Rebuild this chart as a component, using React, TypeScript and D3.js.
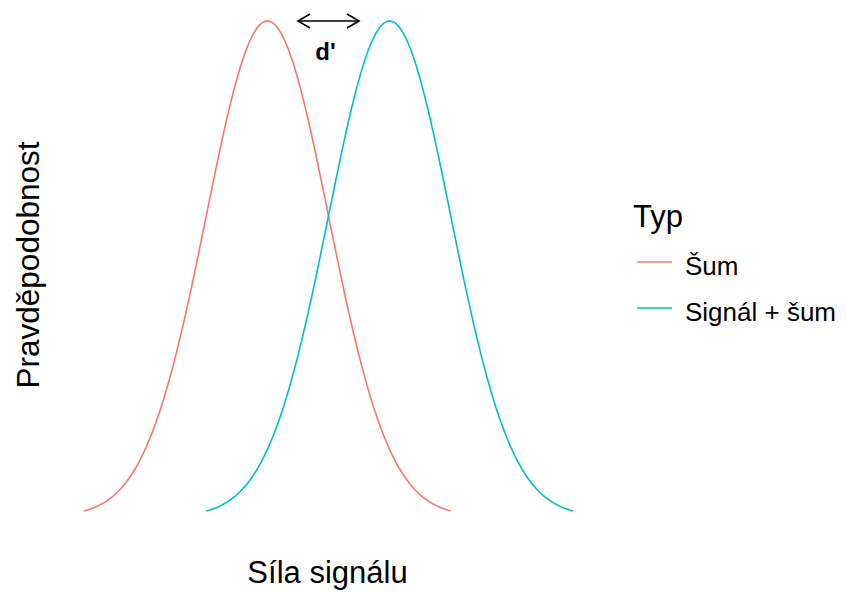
import React from "react";
import * as d3 from "d3";

// Distribution parameters (signal strength units)
const groups = ["Šum", "Signál + šum"];
const means = [0, 2];
const sds = [1, 1];
const colors = ["#F8766D", "#00BFC4"];
const spanSd = 3;

// Annotation of the separation between the two means
const arrowFrom = 0.5;
const arrowTo = 1.5;
const dPrimeLabel = "d'";

const xTitle = "Síla signálu";
const yTitle = "Pravděpodobnost";
const legendTitle = "Typ";

const W = 846;
const H = 592;
const FONT = "'Liberation Sans', Arial, sans-serif";

function normalDensity(x: number, mu: number, sd: number) {
  const z = (x - mu) / sd;
  return Math.exp(-0.5 * z * z) / (sd * Math.sqrt(2 * Math.PI));
}

export default function App() {
  const xMin = d3.min(means.map((m, i) => m - spanSd * sds[i])) as number;
  const xMax = d3.max(means.map((m, i) => m + spanSd * sds[i])) as number;
  const peak = normalDensity(0, 0, 1);

  const x = d3.scaleLinear().domain([xMin, xMax]).range([84, 573]);
  const y = d3.scaleLinear().domain([0, peak]).range([516.5, 21]);

  const line = d3
    .line<[number, number]>()
    .x((d) => x(d[0]))
    .y((d) => y(d[1]))
    .curve(d3.curveLinear);

  const curves = means.map((mu, i) => {
    const sd = sds[i];
    const n = 301;
    const pts: [number, number][] = d3
      .range(n)
      .map((k) => mu - spanSd * sd + (2 * spanSd * sd * k) / (n - 1))
      .map((v) => [v, normalDensity(v, mu, sd)]);
    return line(pts) as string;
  });

  // double-headed open arrow
  const ax1 = x(arrowFrom);
  const ax2 = x(arrowTo);
  const ay = y(peak);
  const headLen = 14;
  const headAng = Math.PI / 6;
  const hx = headLen * Math.cos(headAng);
  const hy = headLen * Math.sin(headAng);

  const legendX = 633;
  const keyY = [262, 308];

  return (
    <svg
      width={W}
      height={H}
      style={{ position: "absolute", left: 0, top: 0, background: "#fff" }}
      fontFamily={FONT}
    >
      {curves.map((d, i) => (
        <path key={groups[i]} d={d} fill="none" stroke={colors[i]} strokeWidth={1.6} />
      ))}

      <g stroke="#000" strokeWidth={1.6} fill="none">
        <line x1={ax1} y1={ay} x2={ax2} y2={ay} />
        <polyline points={`${ax1 + hx},${ay - hy} ${ax1},${ay} ${ax1 + hx},${ay + hy}`} />
        <polyline points={`${ax2 - hx},${ay - hy} ${ax2},${ay} ${ax2 - hx},${ay + hy}`} />
      </g>
      <text
        x={x((arrowFrom + arrowTo) / 2) - 3}
        y={60}
        textAnchor="middle"
        fontSize={24}
        fontWeight="bold"
        fill="#000"
      >
        {dPrimeLabel}
      </text>

      <text x={x(1) - 1} y={583} textAnchor="middle" fontSize={31} fill="#000">
        {xTitle}
      </text>
      <text
        transform={`translate(39,265) rotate(-90)`}
        textAnchor="middle"
        fontSize={31.5}
        fill="#000"
      >
        {yTitle}
      </text>

      <text x={legendX} y={227} fontSize={31} fill="#000">
        {legendTitle}
      </text>
      {groups.map((g, i) => (
        <g key={g}>
          <line
            x1={legendX + 4}
            x2={legendX + 39}
            y1={keyY[i]}
            y2={keyY[i]}
            stroke={colors[i]}
            strokeWidth={1.6}
          />
          <text x={legendX + 52} y={keyY[i] + 13} fontSize={26} fill="#000">
            {g}
          </text>
        </g>
      ))}
    </svg>
  );
}
